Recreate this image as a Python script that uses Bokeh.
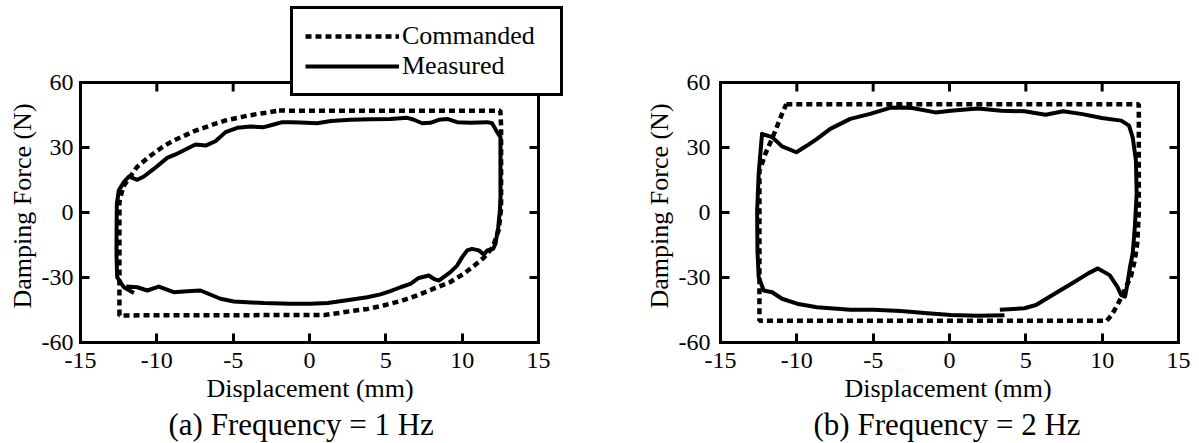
from bokeh.plotting import figure
from bokeh.models import (Range1d, FixedTicker, Legend, LegendItem,
                          Title, CustomJSTickFormatter)
from bokeh.layouts import row
from bokeh.embed import file_html
from bokeh.resources import INLINE

# ---------------- data ----------------
x_ticks = [-15, -10, -5, 0, 5, 10, 15]
y_ticks = [-60, -30, 0, 30, 60]
x_lim = (-15, 15)
y_lim = (-60, 60)

titles = ["(a) Frequency = 1 Hz", "(b) Frequency = 2 Hz"]
x_label = "Displacement (mm)"
y_label = "Damping Force (N)"
series_names = ["Commanded", "Measured"]

# (a) 1 Hz - commanded
cmd1_x = [-2.0, -1.5, 12.5, 12.55, 12.55, 12.4, 12.0, 11.4, 10.8, 10.1, 9.2, 8.25,
          7.05, 5.95, 4.85, 3.8, 2.9, 2.0, 1.0, -12.45, -12.45, -12.2, -11.8, -11.3,
          -10.5, -9.7, -9.0, -8.3, -7.6, -6.8, -6.2, -5.5, -4.7, -4.1, -3.4, -2.8, -2.0]
cmd1_y = [47.1, 47.0, 47.0, 40.0, 2.0, -8.0, -16.0, -21.0, -24.5, -28.3, -32.2, -34.8,
          -38.3, -40.9, -42.9, -44.5, -45.3, -46.3, -47.3, -47.5, 5.0, 12.0, 16.0, 21.0,
          25.8, 29.9, 32.9, 35.1, 37.4, 39.4, 40.9, 42.5, 43.7, 44.6, 45.5, 46.1, 47.1]

# (a) 1 Hz - measured
meas1_x = [-11.5, -12.16, -12.6, -12.64, -12.64, -12.62, -12.49, -12.16, -11.83, -11.6,
           -11.28, -10.85, -10.2, -9.32, -8.78, -8.12, -7.47, -6.81, -6.16, -5.5, -4.73,
           -3.86, -2.99, -2.34, -1.79, -1.24, -0.6, 0.5, 1.4, 2.68, 3.99, 5.3, 6.4, 6.84,
           7.38, 7.92, 8.47, 9.02, 9.67, 10.54, 11.64, 11.96, 12.29, 12.51, 12.51, 12.51,
           12.47, 12.36, 12.18, 12.03, 11.64, 11.42, 11.09, 10.65, 10.33, 10.0, 9.67, 9.23,
           8.47, 8.14, 7.81, 7.16, 6.61, 5.96, 5.3, 4.65, 3.78, 2.68, 1.2, 0.07, -1.24,
           -2.99, -4.96, -5.83, -7.14, -8.01, -8.89, -9.87, -10.63, -11.28, -12.0]
meas1_y = [-37.2, -34.5, -29.8, -20.0, -11.4, 4.0, 10.2, 14.0, 16.6, 16.0,
           15.1, 16.6, 20.1, 25.2, 26.8, 29.1, 31.4, 30.9, 32.9, 37.1, 39.1,
           39.7, 39.4, 40.6, 41.7, 41.7, 41.5, 41.2, 42.2, 42.8, 43.0, 43.2, 43.7, 42.8,
           41.2, 41.4, 42.8, 43.2, 41.7, 41.4, 41.7, 41.2, 37.1, 34.8, 20.0, 7.1,
           0.9, -6.8, -14.5, -16.8, -17.5, -19.4, -17.5, -16.8, -17.5, -20.6, -24.5, -27.5,
           -31.4, -30.6, -29.1, -30.2, -32.9, -34.5, -36.3, -37.8, -39.1, -40.3, -41.8, -42.1, -42.1,
           -41.8, -41.1, -39.8, -36.0, -36.3, -36.8, -34.2, -36.0, -34.5, -34.2]

# (b) 2 Hz - commanded
cmd2_x = [-10.69, 12.4, 12.4, 12.3, 12.14, 11.88, 11.37, 11.0, 10.62, 10.3, -12.45,
          -12.45, -12.28, -12.06, -11.73, -11.4, -11.19, -10.97, -10.69]
cmd2_y = [50.0, 50.0, 0.0, -14.0, -22.0, -29.6, -37.3, -42.7, -47.3, -50.0, -50.0,
          19.4, 22.5, 27.1, 32.4, 37.8, 41.7, 45.5, 50.0]

# (b) 2 Hz - measured
meas2_x = [3.3, 4.91, 5.67, 6.94, 8.2, 9.09, 9.72, 10.49, 11.0, 11.25, 11.5, 11.62, 11.83,
           12.0, 12.14, 12.26, 12.21, 12.0, 11.76, 11.25, 9.98, 8.71, 7.44, 6.3, 4.91,
           3.39, 1.86, 0.09, -0.93, -2.45, -3.21, -3.89, -5.2, -6.5, -7.81, -8.68, -9.33,
           -10.03, -10.97, -11.62, -12.28, -12.5, -12.6, -12.58, -12.5, -12.17, -11.62,
           -10.97, -9.99, -8.68, -6.5, -4.98, -3.21, -1.43, 0.09, 1.86, 3.6]
meas2_y = [-44.9, -44.2, -42.7, -37.3, -32.0, -28.1, -25.8, -28.9, -34.3, -38.1, -38.8, -34.3, -25.0,
           -18.9, -6.7, 8.7, 24.0, 34.7, 40.1, 42.4, 43.6, 45.4, 46.7, 45.1, 46.7,
           47.0, 48.0, 47.0, 46.2, 48.2, 48.5, 48.3, 45.5, 43.2, 38.6, 34.0, 30.9,
           27.8, 30.5, 34.8, 36.3, 17.9, 0.9, -17.5, -29.8, -36.0, -36.8,
           -39.8, -42.1, -43.7, -44.9, -44.9, -45.5, -46.5, -47.3, -47.7, -47.4]

FONT = "Liberation Serif"
H = 443
TOP = 2          # frame starts near the top so the legend (above the box) is not clipped
BOTTOM = 101
BOX_H = 260      # pixel height of the -60..60 box
BOX_W = 458      # pixel width of the -15..15 box
TICK = 9         # inside tick length (px)


def make_fig(width, mbl, mbr, tick_standoff, cx, cy, mx, my, title,
             title_off, xlabel_off, ylabel_off):
    frame_w = width - mbl - mbr
    frame_h = H - TOP - BOTTOM
    xpp = (x_lim[1] - x_lim[0]) / BOX_W
    ypp = (y_lim[1] - y_lim[0]) / BOX_H
    x_end = x_lim[0] + frame_w * xpp
    y_end = y_lim[0] + frame_h * ypp

    p = figure(width=width, height=H, x_range=Range1d(x_lim[0], x_end),
               y_range=Range1d(y_lim[0], y_end),
               output_backend="svg", toolbar_location=None,
               min_border_left=mbl, min_border_right=mbr,
               min_border_top=TOP, min_border_bottom=BOTTOM)
    p.outline_line_color = None
    p.xgrid.grid_line_color = None
    p.ygrid.grid_line_color = None
    p.background_fill_color = "white"
    p.border_fill_color = "white"

    plain = CustomJSTickFormatter(code="return tick.toString();")
    for ax in p.axis:
        ax.axis_line_width = 3
        ax.axis_line_color = "black"
        ax.axis_line_cap = "square"
        ax.major_tick_line_width = 3
        ax.major_tick_line_color = "black"
        ax.major_tick_in = TICK
        ax.major_tick_out = 0
        ax.minor_tick_line_color = None
        ax.formatter = plain
        ax.major_label_text_font = FONT
        ax.major_label_text_font_size = "24px"
        ax.major_label_text_color = "black"

    b = p.below[0]
    b.ticker = FixedTicker(ticks=x_ticks)
    b.bounds = x_lim
    b.major_label_standoff = 10
    l = p.left[0]
    l.ticker = FixedTicker(ticks=y_ticks)
    l.bounds = y_lim
    l.major_label_standoff = tick_standoff

    # axis titles placed along the -15..15 / -60..60 box
    p.add_layout(Title(text=x_label, align="left", offset=xlabel_off, text_font=FONT,
                       text_font_size="26px", text_font_style="normal", text_color="black",
                       standoff=3), "below")
    p.add_layout(Title(text=title, align="left", offset=title_off, text_font=FONT,
                       text_font_size="31px", text_font_style="normal", text_color="black",
                       standoff=0), "below")
    p.add_layout(Title(text=y_label, align="left", offset=ylabel_off, text_font=FONT,
                       text_font_size="26px", text_font_style="normal", text_color="black",
                       standoff=4), "left")

    # top and right sides of the box, with inside ticks
    p.segment(x0=[x_lim[0], x_lim[1]], y0=[y_lim[1], y_lim[0]],
              x1=[x_lim[1], x_lim[1]], y1=[y_lim[1], y_lim[1]],
              line_color="black", line_width=3, line_cap="square")
    p.segment(x0=x_ticks, y0=[y_lim[1]] * len(x_ticks),
              x1=x_ticks, y1=[y_lim[1] - TICK * ypp] * len(x_ticks),
              line_color="black", line_width=3)
    p.segment(x0=[x_lim[1]] * len(y_ticks), y0=y_ticks,
              x1=[x_lim[1] - TICK * xpp] * len(y_ticks), y1=y_ticks,
              line_color="black", line_width=3)

    rc = p.line(cx, cy, line_color="black", line_width=4.5, line_dash="6 4")
    rm = p.line(mx, my, line_color="black", line_width=4, line_join="round")
    return p, rc, rm


# left: box 80..538 px, frame extended to 570 so the legend fits
p1, rc1, rm1 = make_fig(600, 80, 30, 7, cmd1_x, cmd1_y, meas1_x, meas1_y, titles[0],
                        88, 126, 34)
# right: box 720..1179 px
p2, rc2, rm2 = make_fig(599, 120, 9, 10, cmd2_x, cmd2_y, meas2_x, meas2_y, titles[1],
                        93, 124, 34)

legend = Legend(items=[LegendItem(label=series_names[0], renderers=[rc1]),
                       LegendItem(label=series_names[1], renderers=[rm1])],
                location=(210, 246), orientation="vertical",
                border_line_color="black", border_line_width=3, border_line_alpha=1.0,
                background_fill_color="white", background_fill_alpha=1.0,
                label_text_font=FONT, label_text_font_size="26px", label_text_color="black",
                glyph_width=94, glyph_height=28, label_height=28, label_width=146,
                label_standoff=3, padding=12, spacing=-2, margin=0)
p1.add_layout(legend)

layout = row(p1, p2)
open("out.html", "w").write(file_html(layout, INLINE))
